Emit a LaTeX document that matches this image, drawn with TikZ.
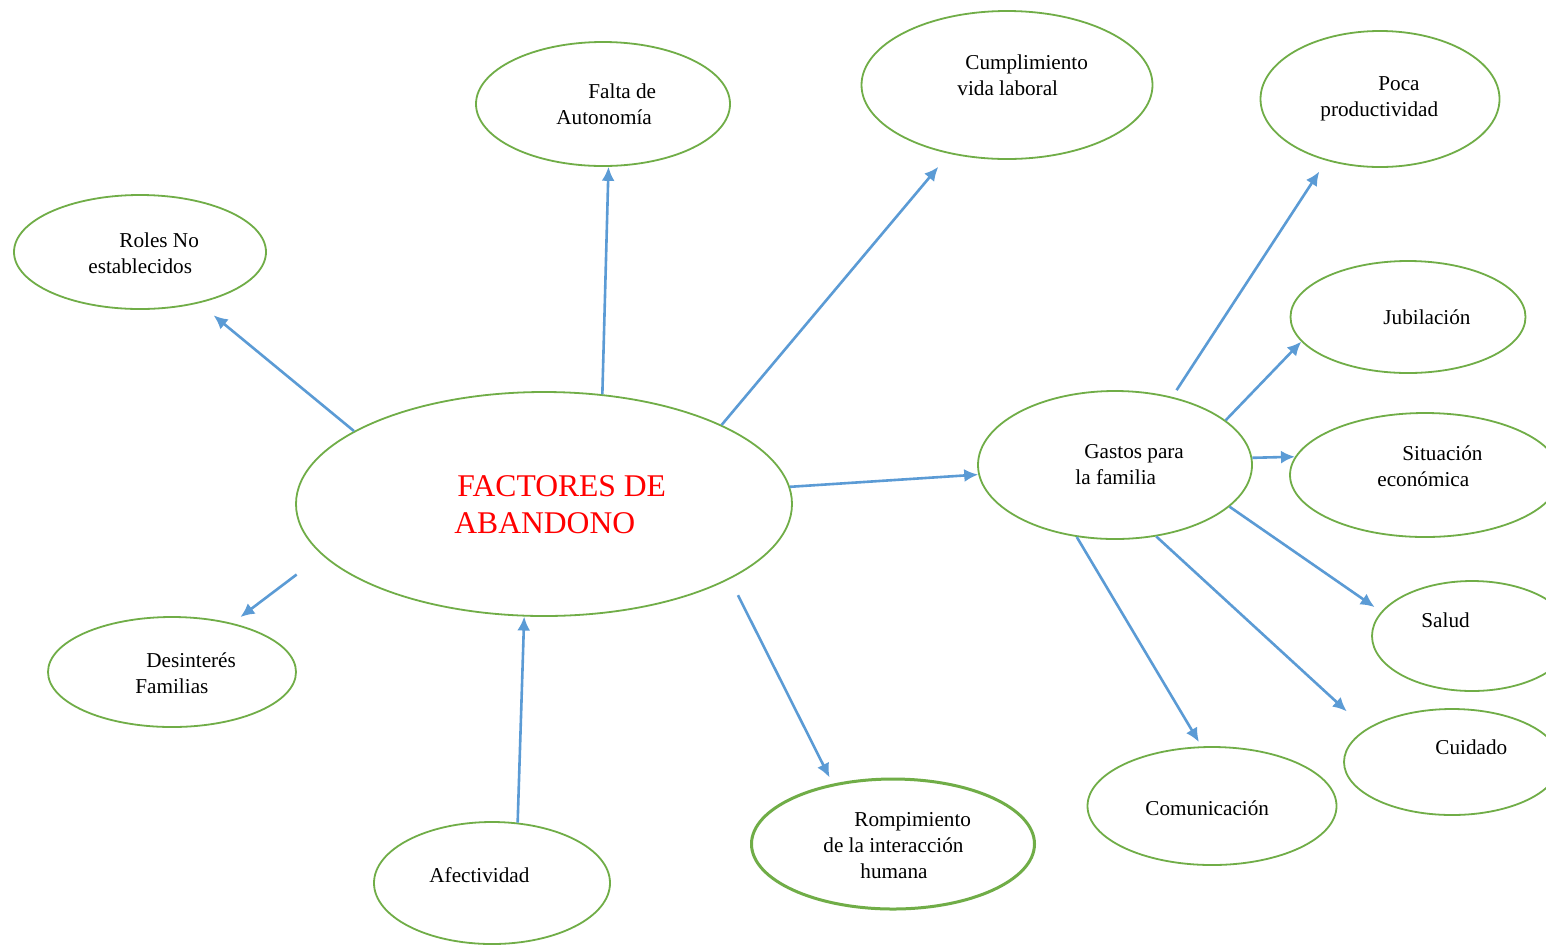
\documentclass[tikz,border=0pt]{standalone}
\usepackage{fontspec}
\setmainfont{Liberation Serif}
\usetikzlibrary{arrows.meta,shapes.geometric}
\definecolor{ovalgreen}{HTML}{70AD47}
\definecolor{linkblue}{HTML}{5B9BD5}
\tikzset{oval/.style={draw=ovalgreen, line width=0.9pt, ellipse, inner sep=0pt}}
\tikzset{txt/.style={align=left, anchor=west, inner sep=0pt,
  font=\fontsize{10.6}{13}\selectfont}}
\tikzset{link/.style={draw=linkblue, line width=1.3pt,
  -{Latex[length=7pt,width=6.5pt]}}}

\begin{document}
\begin{tikzpicture}[x=0.5pt, y=-0.5pt]

\clip (0,0) rectangle (1546,944);
\fill[white] (0,0) rectangle (1546,944);

% centro
\node[oval, minimum width=248pt, minimum height=112pt] (factores) at (544,504) {};
\node[txt, text=red, font=\fontsize{15.8}{18.5}\selectfont] (factores-t) at (454,505) {\hspace*{1.5pt}FACTORES DE\\ABANDONO};

\node[oval, minimum width=126pt, minimum height=57pt] (roles) at (140,252) {};
\node[txt] (roles-t) at (88,253) {\hspace*{15.5pt}Roles No\\establecidos};
\node[oval, minimum width=127pt, minimum height=62pt] (falta) at (603,104) {};
\node[txt] (falta-t) at (556,104) {\hspace*{16pt}Falta de\\Autonomía};
\node[oval, minimum width=145.5pt, minimum height=74pt] (cumple) at (1007,85) {};
\node[txt] (cumple-t) at (957,75) {\hspace*{4pt}Cumplimiento\\vida laboral};
\node[oval, minimum width=124pt, minimum height=55pt] (desint) at (172,672) {};
\node[txt] (desint-t) at (135,673) {\hspace*{5.5pt}Desinterés\\Familias};
\node[oval, minimum width=118pt, minimum height=61pt] (afecto) at (492,883) {};
\node[txt] (afecto-t) at (429,875) {Afectividad};
\node[oval, line width=1.5pt, minimum width=141.5pt, minimum height=65pt] (rompe) at (893,844) {};
\node[txt] (rompe-t) at (823,846) {\hspace*{15.5pt}Rompimiento\\de la interacción\\\hspace*{18.5pt}humana};

% gastos
\node[oval, minimum width=137pt, minimum height=74pt] (gastos) at (1115,465) {};
\node[txt] (gastos-t) at (1075,465) {\hspace*{4.5pt}Gastos para\\la familia};
\node[oval, minimum width=119.5pt, minimum height=68pt] (poca) at (1380,99) {};
\node[txt] (poca-t) at (1320,99) {\hspace*{29pt}Poca\\productividad};
\node[oval, minimum width=117.5pt, minimum height=56pt] (jubila) at (1408,317) {};
\node[txt] (jubila-t) at (1383,317) {Jubilación};
\node[oval, minimum width=135pt, minimum height=62pt] (situa) at (1425,475) {};
\node[txt] (situa-t) at (1377,466) {\hspace*{12.5pt}Situación\\económica};
\node[oval, minimum width=100pt, minimum height=55pt] (salud) at (1472,636) {};
\node[txt] (salud-t) at (1421,620) {Salud};
\node[oval, minimum width=108pt, minimum height=53pt] (cuidado) at (1452,762) {};
\node[txt] (cuidado-t) at (1435,747) {Cuidado};
\node[oval, minimum width=124.5pt, minimum height=59pt] (comunica) at (1212,806) {};
\node[txt] (comunica-t) at (1145,808) {Comunicación};

\draw[link, shorten >=9.5pt] (factores.159) -- (roles.-41);
\draw[link] (factores.62) -- (falta.-85);
\draw[link, shorten >=8.5pt] (factores.24) -- (cumple.-130);
\draw[link] (factores.4) -- (gastos.-176);
\draw[link, shorten <=9pt, shorten >=3.5pt] (factores.-22) -- (rompe.135);
\draw[link] (afecto.67) -- (factores.-100);
\draw[link, shorten <=16pt, shorten >=5pt] (factores.-167) -- (desint.39);

\draw[link, shorten <=4pt, shorten >=6.5pt] (gastos.50) -- (poca.-131);
\draw[link] (gastos.22) -- (jubila.-167);
\draw[link] (gastos.3) -- (situa.172);
\draw[link, shorten >=4pt] (gastos.-20) -- (salud.165);
\draw[link, shorten >=13pt] (gastos.-60) -- (cuidado.159);
\draw[link, shorten >=2.5pt] (gastos.-118) -- (comunica.100);

\end{tikzpicture}
\end{document}
